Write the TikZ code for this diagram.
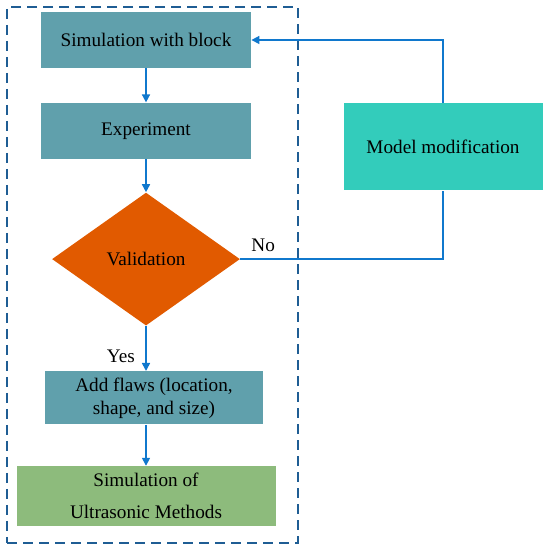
\documentclass[tikz,border=0pt]{standalone}
\usepackage{fontspec}
\setmainfont{Liberation Serif}
\usetikzlibrary{shapes.geometric, arrows.meta, positioning}

\definecolor{stepteal}{RGB}{96,160,172}
\definecolor{modelteal}{RGB}{51,204,187}
\definecolor{decorange}{RGB}{225,90,0}
\definecolor{simgreen}{RGB}{141,187,124}
\definecolor{linkblue}{RGB}{16,120,205}
\definecolor{frameblue}{RGB}{31,93,148}

\begin{document}
\begin{tikzpicture}[
    node distance=17pt,
    every node/.style={font=\fontsize{9.6pt}{11.5pt}\selectfont},
    stepbox/.style={fill=stepteal, minimum width=105pt, minimum height=28pt, align=center, inner sep=1pt},
    decision/.style={diamond, fill=decorange, minimum width=94pt, minimum height=66.5pt, inner sep=0pt},
    frame/.style={draw=frameblue, line width=0.9pt, dash pattern=on 5pt off 3pt},
    arrow/.style={-{Triangle[length=4pt, width=4pt]}, draw=linkblue, line width=0.8pt},
    link/.style={draw=linkblue, line width=0.8pt}
]
\useasboundingbox (0,0) rectangle (275pt,275pt);

% Main column
\node[stepbox] (sim) at (73pt,255pt) {Simulation with block};
\node[stepbox, below=17pt of sim] (exper) {Experiment};
\node[decision, below=16.5pt of exper] (valid) {Validation};
\node[stepbox, below=22.5pt of valid, xshift=4pt, minimum width=109pt, minimum height=26.5pt] (flaws) {Add flaws (location,\\shape, and size)};
\node[stepbox, fill=simgreen, below=20.5pt of flaws, xshift=-4pt, minimum width=129.5pt, minimum height=30pt] (ultra) {Simulation of\\[4.5pt]Ultrasonic Methods};

% Feedback
\node[stepbox, fill=modelteal, minimum width=99.5pt, minimum height=43.5pt] (model) at (221.5pt,201.5pt) {Model modification};

% Dashed frame
\node[frame, minimum width=145.5pt, minimum height=268pt] (box) at (76.25pt,137.5pt) {};

% Arrows
\draw[arrow] (sim) -- (exper);
\draw[arrow] (exper) -- (valid);
\draw[arrow] (valid.south) -- (valid.south |- flaws.north);
\draw[arrow] (flaws.south -| valid.south) -- (ultra);
\draw[link] (valid.east) -| (model.south);
\draw[arrow] (model.north) |- (sim.east);

\node[above right=0pt and 2pt of valid.east] (no) {No};
\node[anchor=east] (yes) at (71pt,97pt) {Yes};

\end{tikzpicture}
\end{document}
